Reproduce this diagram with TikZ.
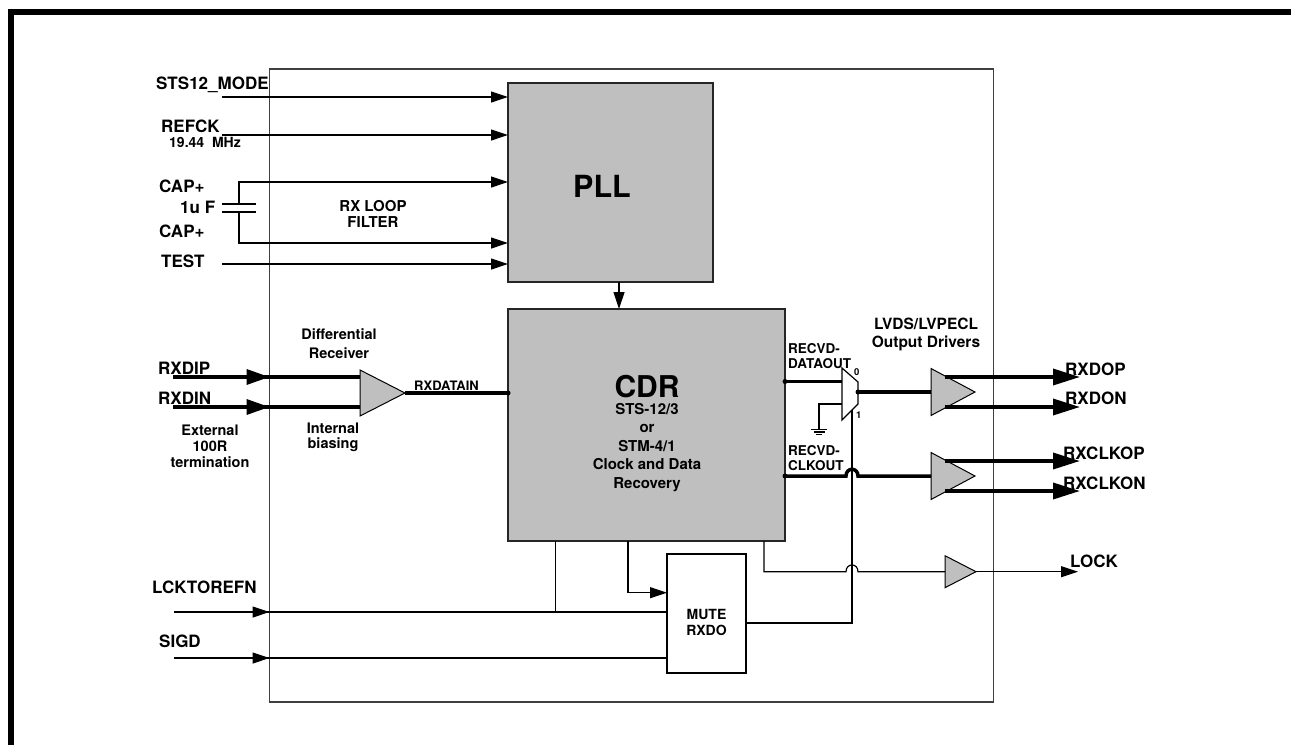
\documentclass[tikz,border=0pt]{standalone}
\usepackage{fontspec}
\setmainfont{TeX Gyre Heros}
\usetikzlibrary{positioning, arrows.meta, shapes.geometric}

\begin{document}
\begin{tikzpicture}
[
    x=1pt, y=-1pt, node distance=84pt, on grid,
    >={Triangle[length=17pt, width=11pt]},
    bus_tip/.style={-{Triangle[length=23pt, width=15pt]}},
    out_tip/.style={-{Triangle[length=27pt, width=16pt]}},
    sig/.style={line width=1.2pt, color=black},
    bus/.style={line width=3.5pt, color=black},
    pin_label/.style={font=\fontsize{17}{20}\selectfont\bfseries, inner sep=0pt, anchor=base west},
    note_label/.style={font=\fontsize{14.5}{16}\selectfont\bfseries, inner sep=0pt, align=center, anchor=north},
    wire_label/.style={font=\fontsize{13.5}{15}\selectfont\bfseries, inner sep=0pt, align=left, anchor=north west},
    chip_box/.style={rectangle, draw=black!75, line width=1.5pt, inner sep=0pt, outer sep=0pt},
    gray_block/.style={rectangle, draw=black!85, fill=black!25, line width=1.5pt, inner sep=0pt, outer sep=0pt},
    white_block/.style={rectangle, draw=black, fill=white, line width=1.3pt, inner sep=0pt, outer sep=0pt},
    buffer/.style={isosceles triangle, isosceles triangle stretches, draw=black, fill=black!25, line width=1pt, inner sep=0pt, outer sep=0pt},
]
    \useasboundingbox (0,0) rectangle (1291,745);
    \draw[line width=6pt] (11,745) -- (11,12) -- (1291,12);

    \node[chip_box, minimum width=724pt, minimum height=633pt] (chip) at (631.5,385.5) {};
    \node[gray_block, minimum width=205pt, minimum height=199pt] (pll) at (610.5,182.5) {};
    \node[gray_block, minimum width=277pt, minimum height=232pt] (cdr) at (646.5,425) {};
    \node[white_block, minimum width=79pt, minimum height=119pt] (mute) at (706.5,613.5) {};
    \node[buffer, minimum width=46pt, minimum height=45pt, anchor=apex] (rxbuf) at (405,393) {};
    \node[buffer, minimum width=47pt, minimum height=44pt, anchor=apex] (drvdata) at (975,392) {};
    \node[buffer, minimum width=47pt, minimum height=44pt] (drvclk) [below = of drvdata] {};
    \node[buffer, minimum width=32pt, minimum height=31pt, anchor=apex] (lockbuf) at (976,571.7) {};

    \node[font=\fontsize{30.5}{32}\selectfont\bfseries, inner sep=0pt, anchor=base] (plltext) at (602,197.3) {PLL};
    \node[font=\fontsize{30}{32}\selectfont\bfseries, inner sep=0pt, anchor=base] (cdrtitle) at (647,397.3) {CDR};
    \node[note_label, font=\fontsize{15}{18.5}\selectfont\bfseries] (cdrtext) at (647,403) {STS-12/3\\or\\STM-4/1\\Clock and Data\\Recovery};
    \node[note_label, font=\fontsize{14}{16}\selectfont\bfseries] (mutetext) at (706.5,609) {MUTE\\RXDO};

    \node[pin_label] (sts) at (156,89) {STS12\_MODE};
    \node[pin_label] (refck) at (161,132) {REFCK};
    \node[pin_label, font=\fontsize{14}{16}\selectfont\bfseries] (refmhz) at (169,147) {19.44~~MHz};
    \node[pin_label] (captop) at (159,192) {CAP+};
    \node[pin_label] (capval) at (180,213) {1u F};
    \node[pin_label] (capbot) at (159,237) {CAP+};
    \node[pin_label] (test) at (161,267) {TEST};
    \node[pin_label] (rxdip) at (158,374) {RXDIP};
    \node[pin_label] (rxdin) at (158,404) {RXDIN};
    \node[pin_label] (lcktorefn) at (152,593) {LCKTOREFN};
    \node[pin_label] (sigd) at (159,647) {SIGD};
    \node[pin_label] (rxdop) at (1065,375) {RXDOP};
    \node[pin_label] (rxdon) at (1065,404) {RXDON};
    \node[pin_label] (rxclkop) at (1063,459) {RXCLKOP};
    \node[pin_label] (rxclkon) at (1063,489) {RXCLKON};
    \node[pin_label] (lock) at (1070,567) {LOCK};
    \node[pin_label, font=\fontsize{13}{15}\selectfont\bfseries] (rxdatain) at (414,390) {RXDATAIN};
    \node[pin_label, font=\fontsize{9.5}{11}\selectfont\bfseries] (muxzero) at (854,375.7) {0};
    \node[pin_label, font=\fontsize{9.5}{11}\selectfont\bfseries] (muxone) at (856,418.7) {1};

    \node[note_label, font=\fontsize{15}{16}\selectfont\bfseries] (loopfilter) at (373,200) {RX LOOP\\FILTER};
    \node[note_label, font=\fontsize{14.5}{19}\selectfont\bfseries] (diffrx) at (339,328) {Differential\\Receiver};
    \node[note_label, font=\fontsize{14.5}{15}\selectfont\bfseries] (intbias) at (333,422.7) {Internal\\biasing};
    \node[note_label] (exterm) at (210,424.3) {External\\100R\\termination};
    \node[note_label, font=\fontsize{15.5}{18}\selectfont\bfseries] (drivers) at (926,318) {LVDS/LVPECL\\Output Drivers};
    \node[wire_label] (recvddata) at (788,343) {RECVD-\\DATAOUT};
    \node[wire_label] (recvdclk) at (788,445) {RECVD-\\CLKOUT};

    \coordinate (stsin) at (222,97);
    \coordinate (refin) at (222,135);
    \coordinate (testin) at (222,264);
    \coordinate (capplus) at (239,204);
    \coordinate (capminus) at (239,212);
    \coordinate (dipin) at (173,377);
    \coordinate (dinin) at (173,407);
    \coordinate (lckin) at (174,612);
    \coordinate (sigdin) at (174,658);
    \coordinate (mux0) at (842,381.5);
    \coordinate (muxsel) at (842,404);
    \coordinate (mux1) at (852,410);
    \coordinate (muxout) at (858,392);
    \coordinate (gnd) at (819,429.5);
    \coordinate (clkhop) at (852,476);
    \coordinate (lockhop) at (852,571.7);
    \coordinate (dopout) at (945,377);
    \coordinate (donout) at (945,407);
    \coordinate (clkopout) at (945,461);
    \coordinate (clkonout) at (945,491);
    \coordinate (dopend) at (1080,377);
    \coordinate (donend) at (1080,407);
    \coordinate (clkopend) at (1080,461);
    \coordinate (clkonend) at (1080,491);
    \coordinate (lockend) at (1078,571.7);

    \draw[->, sig] (stsin) -- (stsin -| pll.west);
    \draw[->, sig] (refin) -- (refin -| pll.west);
    \draw[->, sig] (testin) -- (testin -| pll.west);
    \draw[->, sig] (capplus) |- (pll.west |- 0,182);
    \draw[->, sig] (capminus) |- (pll.west |- 0,243);
    \draw[line width=1.5pt] (222,204) -- (256,204) (222,212) -- (256,212);
    \draw[->, sig] ([xshift=8.5pt]pll.south) -- ([xshift=8.5pt]pll.south |- cdr.north);

    \draw[bus] (dipin) -- (dipin -| rxbuf.left corner);
    \draw[bus] (dinin) -- (dinin -| rxbuf.left corner);
    \draw[bus, bus_tip] (dipin) -- (dipin -| chip.west);
    \draw[bus, bus_tip] (dinin) -- (dinin -| chip.west);
    \draw[bus] (rxbuf.apex) -- (rxbuf.apex -| cdr.west);
    \fill (rxbuf.apex -| cdr.west) circle (2.5);

    \draw[line width=1.2pt, fill=white] (842,368) -- (858,382) -- (858,404) -- (842,420) -- cycle;
    \draw[bus] (cdr.east |- mux0) -- (mux0);
    \fill (cdr.east |- mux0) circle (2.5);
    \draw[bus] (muxout) -- (muxout -| drvdata.left corner);
    \fill (muxout) circle (2.5);
    \draw[sig] (muxsel) -| (gnd);
    \draw[sig] (811,429.5) -- (827,429.5) (813.5,432) -- (824.5,432) (816,434.5) -- (822,434.5);
    \draw[sig] (mute.east |- 0,623) -| (mux1);

    \draw[bus] (cdr.east |- clkhop) -- ([xshift=-6pt]clkhop) .. controls ([xshift=-6pt, yshift=9pt]clkhop) and ([xshift=6pt, yshift=9pt]clkhop) .. ([xshift=6pt]clkhop) -- (clkhop -| drvclk.left corner);
    \fill (cdr.east |- clkhop) circle (2.5);

    \draw[bus, out_tip] (dopout) -- (dopend);
    \draw[bus, out_tip] (donout) -- (donend);
    \draw[bus, out_tip] (clkopout) -- (clkopend);
    \draw[bus, out_tip] (clkonout) -- (clkonend);

    \draw[sig] ([xshift=-91pt]cdr.south) -- ([xshift=-91pt]cdr.south |- lckin);
    \draw[->, sig] ([xshift=-18.5pt]cdr.south) |- (mute.west |- 0,592.7);
    \draw[sig] ([xshift=117.5pt]cdr.south) |- ([xshift=-6pt]lockhop) .. controls ([xshift=-6pt, yshift=9pt]lockhop) and ([xshift=6pt, yshift=9pt]lockhop) .. ([xshift=6pt]lockhop) -- (lockhop -| lockbuf.left corner);
    \draw[->, sig] (lockbuf.apex) -- (lockend);

    \draw[sig] (lckin) -- (lckin -| mute.west);
    \draw[sig] (sigdin) -- (sigdin -| mute.west);
    \draw[->, sig] (lckin) -- (lckin -| chip.west);
    \draw[->, sig] (sigdin) -- (sigdin -| chip.west);
\end{tikzpicture}
\end{document}
